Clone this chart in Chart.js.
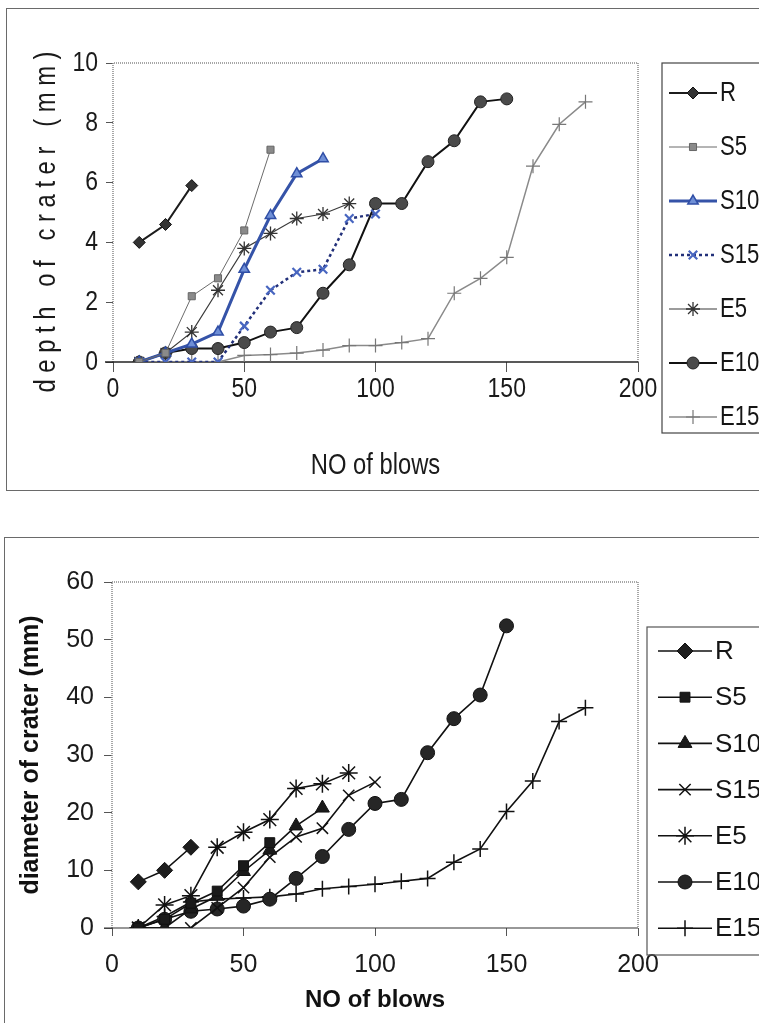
<!DOCTYPE html>
<html>
<head>
<meta charset="utf-8">
<script src="https://cdn.jsdelivr.net/npm/chart.js@4.4.1/dist/chart.umd.min.js"></script>
<style>
  html, body { margin: 0; padding: 0; background: #fff; overflow: hidden; }
  body { width: 759px; height: 1023px; position: relative; }
  .frame { position: absolute; border: 1px solid #6a6a6a; }
  canvas { position: absolute; left: 0; }
</style>
</head>
<body>
<div class="frame" style="left:6px; top:8px; width:800px; height:481px;"></div>
<div class="frame" style="left:4px; top:537px; width:800px; height:600px;"></div>
<canvas id="depthChart" style="top:0; width:759px; height:505px;"></canvas>
<canvas id="diamChart" style="top:515px; width:759px; height:508px;"></canvas>
<script>
// blow counts shared by every series (each series uses as many as it has values)
const blows = [10, 20, 30, 40, 50, 60, 70, 80, 90, 100, 110, 120, 130, 140, 150, 160, 170, 180];
const seriesNames = ["R", "S5", "S10", "S15", "E5", "E10", "E15"];

// depth of crater (mm)
const depthR   = [4.0, 4.6, 5.9];
const depthS5  = [0, 0.3, 2.2, 2.8, 4.4, 7.1];
const depthS10 = [0, 0.3, 0.6, 1.0, 3.1, 4.9, 6.3, 6.8];
const depthS15 = [0, 0, 0, 0, 1.2, 2.4, 3.0, 3.1, 4.8, 4.95];
const depthE5  = [0, 0.3, 1.0, 2.4, 3.8, 4.3, 4.8, 4.95, 5.3];
const depthE10 = [0, 0.3, 0.45, 0.45, 0.65, 1.0, 1.15, 2.3, 3.25, 5.3, 5.3, 6.7, 7.4, 8.7, 8.8];
const depthE15 = [0, 0, 0, 0, 0.22, 0.25, 0.3, 0.4, 0.55, 0.55, 0.65, 0.78, 2.3, 2.8, 3.5, 6.55, 7.95, 8.7];

// diameter of crater (mm)
const diamR   = [8, 10, 14];
const diamS5  = [0, 1.5, 4.3, 6.4, 10.8, 14.8];
const diamS10 = [0, 0, 3.3, 5.5, 9.8, 13.5, 17.7, 20.8];
const diamS15 = [0, 0, 0, 3.5, 7.0, 12.3, 15.8, 17.3, 23.0, 25.3];
const diamE5  = [0, 4.0, 5.6, 14.0, 16.6, 18.8, 24.2, 25.0, 26.9];
const diamE10 = [0, 1.5, 2.9, 3.3, 3.8, 5.0, 8.6, 12.4, 17.1, 21.6, 22.3, 30.4, 36.3, 40.4, 52.4];
const diamE15 = [0, 2.0, 4.5, 5.0, 5.2, 5.4, 5.9, 6.8, 7.2, 7.6, 8.1, 8.6, 11.4, 13.7, 20.2, 25.5, 35.8, 38.2];

const xTicks = [0, 50, 100, 150, 200];

const toPoints = vals => vals.map((v, i) => ({ x: blows[i], y: v }));

const ARIAL = '"Liberation Sans", Arial, sans-serif';
const SQUEEZE = 0.82; // no Arial Narrow installed, so squeeze Arial like it

// dotted grey plot border + solid x axis line at zero
const plotFrame = {
  id: "plotFrame",
  beforeDatasetsDraw(chart, args, opts) {
    const { ctx, chartArea: a } = chart;
    ctx.save();
    ctx.strokeStyle = opts.color;
    ctx.lineWidth = 1.5;
    ctx.setLineDash([1, 1]);
    ctx.beginPath();
    ctx.moveTo(a.left, a.bottom);
    ctx.lineTo(a.left, a.top);
    ctx.lineTo(a.right, a.top);
    ctx.lineTo(a.right, a.bottom);
    ctx.stroke();
    ctx.setLineDash([]);
    ctx.strokeStyle = opts.axisColor;
    ctx.lineWidth = opts.axisWidth;
    ctx.beginPath();
    ctx.moveTo(a.left - 8, a.bottom);
    ctx.lineTo(a.right, a.bottom);
    ctx.stroke();
    ctx.restore();
  }
};

function putText(ctx, txt, x, y, align, squeeze, rot) {
  ctx.save();
  ctx.translate(x, y);
  if (rot) ctx.rotate(rot);
  ctx.scale(squeeze, 1);
  ctx.textAlign = align;
  ctx.textBaseline = "middle";
  ctx.fillText(txt, 0, 0);
  ctx.restore();
}

// tick labels and titles of the top chart, drawn narrow from the scales' own ticks
const narrowText = {
  id: "narrowText",
  afterDraw(chart, args, o) {
    const { ctx, chartArea: a } = chart;
    const xs = chart.scales.x, ys = chart.scales.y;
    ctx.save();
    ctx.fillStyle = o.color;
    ctx.font = o.tickFont;
    xs.ticks.forEach(t => putText(ctx, String(t.value), xs.getPixelForValue(t.value), o.xLabelY, "center", o.squeeze));
    ys.ticks.forEach(t => putText(ctx, String(t.value), o.yLabelRight, ys.getPixelForValue(t.value), "right", o.squeeze));
    ctx.font = o.xTitleFont;
    putText(ctx, xs.options.title.text, (a.left + a.right) / 2, o.xTitleY, "center", o.squeeze);
    ctx.font = o.yTitleFont;
    putText(ctx, ys.options.title.text, o.yTitleX, o.yTitleY, "center", o.squeeze, -Math.PI / 2);
    ctx.restore();
  }
};

// boxed legend with line + marker samples, like the spreadsheet one
const boxLegend = {
  id: "boxLegend",
  afterDraw(chart, args, o) {
    const ctx = chart.ctx;
    ctx.save();
    ctx.strokeStyle = o.frame;
    ctx.lineWidth = 1.2;
    ctx.strokeRect(o.left, o.top, o.width, o.height);
    chart.data.datasets.forEach((ds, i) => {
      const y = o.firstY + i * o.step;
      ctx.beginPath();
      ctx.setLineDash(ds.borderDash || []);
      ctx.strokeStyle = ds.borderColor;
      ctx.lineWidth = ds.borderWidth;
      ctx.moveTo(o.x0, y);
      ctx.lineTo(o.x1, y);
      ctx.stroke();
      ctx.setLineDash([]);
      ctx.fillStyle = ds.pointBackgroundColor;
      ctx.strokeStyle = ds.pointBorderColor;
      ctx.lineWidth = ds.pointBorderWidth;
      Chart.helpers.drawPoint(ctx, {
        pointStyle: ds.pointStyle, radius: ds.pointRadius,
        borderWidth: ds.pointBorderWidth, rotation: 0
      }, (o.x0 + o.x1) / 2, y);
      ctx.fillStyle = "#151515";
      ctx.font = o.font;
      putText(ctx, ds.label, o.textX, y + 1, "left", o.squeeze);
    });
    ctx.restore();
  }
};

function makeDataset(label, vals, st) {
  return {
    label,
    data: toPoints(vals),
    borderColor: st.line,
    borderWidth: st.width,
    borderDash: st.dash || [],
    pointStyle: st.point,
    pointRadius: st.r,
    pointBackgroundColor: st.fill,
    pointBorderColor: st.stroke,
    pointBorderWidth: st.pw,
    tension: 0
  };
}

// ---------- top chart: depth ----------
const depthStyles = [
  { line: "#1c1c1c", width: 2, point: "rectRot", r: 6, fill: "#333", stroke: "#111", pw: 1 },
  { line: "#6b6b6b", width: 1, point: "rect", r: 5, fill: "#8a8a8a", stroke: "#666", pw: 1 },
  { line: "#3553a8", width: 3, point: "triangle", r: 6, fill: "#6f8fd6", stroke: "#2f4ea6", pw: 1.5 },
  { line: "#22307a", width: 2.5, dash: [3, 3], point: "crossRot", r: 6, fill: "#4866c0", stroke: "#4866c0", pw: 2.2 },
  { line: "#3a3a3a", width: 1.2, point: "star", r: 7, fill: "#333", stroke: "#333", pw: 1.3 },
  { line: "#111", width: 2, point: "circle", r: 6, fill: "#4a4a4a", stroke: "#222", pw: 1 },
  { line: "#8a8a8a", width: 1.5, point: "cross", r: 7, fill: "#777", stroke: "#777", pw: 1.2 }
];
const depthVals = [depthR, depthS5, depthS10, depthS15, depthE5, depthE10, depthE15];

new Chart(document.getElementById("depthChart"), {
  type: "line",
  data: { datasets: depthVals.map((v, i) => makeDataset(seriesNames[i], v, depthStyles[i])) },
  options: {
    responsive: false,
    animation: false,
    layout: { padding: { left: 0, top: 63, right: 121, bottom: 10 } },
    plugins: {
      legend: { display: false },
      tooltip: { enabled: false },
      plotFrame: { color: "#8a8a8a", axisColor: "#222", axisWidth: 1.5 },
      narrowText: {
        color: "#1a1a1a", squeeze: SQUEEZE,
        tickFont: "28px " + ARIAL, xLabelY: 389, yLabelRight: 98,
        xTitleFont: "29px " + ARIAL, xTitleY: 466,
        yTitleFont: "29px " + ARIAL, yTitleX: 47, yTitleY: 222
      },
      boxLegend: {
        left: 662, top: 63, width: 200, height: 370,
        firstY: 93, step: 54, x0: 669, x1: 717, textX: 720,
        font: "27px " + ARIAL, squeeze: SQUEEZE, frame: "#444"
      }
    },
    scales: {
      x: {
        type: "linear", min: 0, max: 200,
        afterFit: s => { s.height = 133; },
        afterBuildTicks: s => { s.ticks = xTicks.map(v => ({ value: v })); },
        border: { display: false },
        grid: { drawOnChartArea: false, drawTicks: true, tickLength: 10, color: "#555" },
        ticks: { display: false },
        title: { display: false, text: "NO of blows" }
      },
      y: {
        min: 0, max: 10,
        afterFit: s => { s.width = 113; },
        border: { display: false },
        grid: { drawOnChartArea: false, drawTicks: true, tickLength: 7, color: "#555" },
        ticks: { display: false, stepSize: 2 },
        title: { display: false, text: "d e p t h   o f   c r a t e r   ( m m )" }
      }
    }
  },
  plugins: [plotFrame, narrowText, boxLegend]
});

// ---------- bottom chart: diameter ----------
const diamStyles = [
  { line: "#111", width: 1.6, point: "rectRot", r: 8, fill: "#1e1e1e", stroke: "#111", pw: 1 },
  { line: "#111", width: 1.6, point: "rect", r: 7, fill: "#1a1a1a", stroke: "#111", pw: 1 },
  { line: "#111", width: 1.6, point: "triangle", r: 8, fill: "#1a1a1a", stroke: "#111", pw: 1 },
  { line: "#111", width: 1.6, point: "crossRot", r: 8, fill: "#111", stroke: "#111", pw: 1.5 },
  { line: "#111", width: 1.6, point: "star", r: 9, fill: "#111", stroke: "#111", pw: 1.5 },
  { line: "#111", width: 1.6, point: "circle", r: 7, fill: "#262626", stroke: "#111", pw: 1 },
  { line: "#111", width: 1.6, point: "cross", r: 8, fill: "#111", stroke: "#111", pw: 1.5 }
];
const diamVals = [diamR, diamS5, diamS10, diamS15, diamE5, diamE10, diamE15];

new Chart(document.getElementById("diamChart"), {
  type: "line",
  data: { datasets: diamVals.map((v, i) => makeDataset(seriesNames[i], v, diamStyles[i])) },
  options: {
    responsive: false,
    animation: false,
    layout: { padding: { left: 0, top: 67, right: 121, bottom: 8 } },
    plugins: {
      legend: { display: false },
      tooltip: { enabled: false },
      plotFrame: { color: "#8a8a8a", axisColor: "#333", axisWidth: 1.2 },
      boxLegend: {
        left: 647, top: 112, width: 200, height: 328,
        firstY: 136, step: 46.2, x0: 658, x1: 712, textX: 715,
        font: "26px " + ARIAL, squeeze: 1, frame: "#555"
      }
    },
    scales: {
      x: {
        type: "linear", min: 0, max: 200,
        afterFit: s => { s.height = 87; },
        afterBuildTicks: s => { s.ticks = xTicks.map(v => ({ value: v })); },
        border: { display: false },
        grid: { drawOnChartArea: false, drawTicks: true, tickLength: 8, color: "#555" },
        ticks: { font: { family: ARIAL, size: 25 }, color: "#1a1a1a", padding: 14, maxRotation: 0 },
        title: { display: true, text: "NO of blows", font: { family: ARIAL, size: 24, weight: "bold" }, color: "#111", padding: { top: 0, bottom: 0 } }
      },
      y: {
        min: 0, max: 60,
        afterFit: s => { s.width = 112; },
        border: { display: false },
        grid: { drawOnChartArea: false, drawTicks: true, tickLength: 8, color: "#555" },
        ticks: { stepSize: 10, font: { family: ARIAL, size: 25 }, color: "#1a1a1a", padding: 10 },
        title: { display: true, text: "diameter of crater (mm)", font: { family: ARIAL, size: 25, weight: "bold" }, color: "#111", padding: { top: 16, bottom: 0 } }
      }
    }
  },
  plugins: [plotFrame, boxLegend]
});
</script>
</body>
</html>
